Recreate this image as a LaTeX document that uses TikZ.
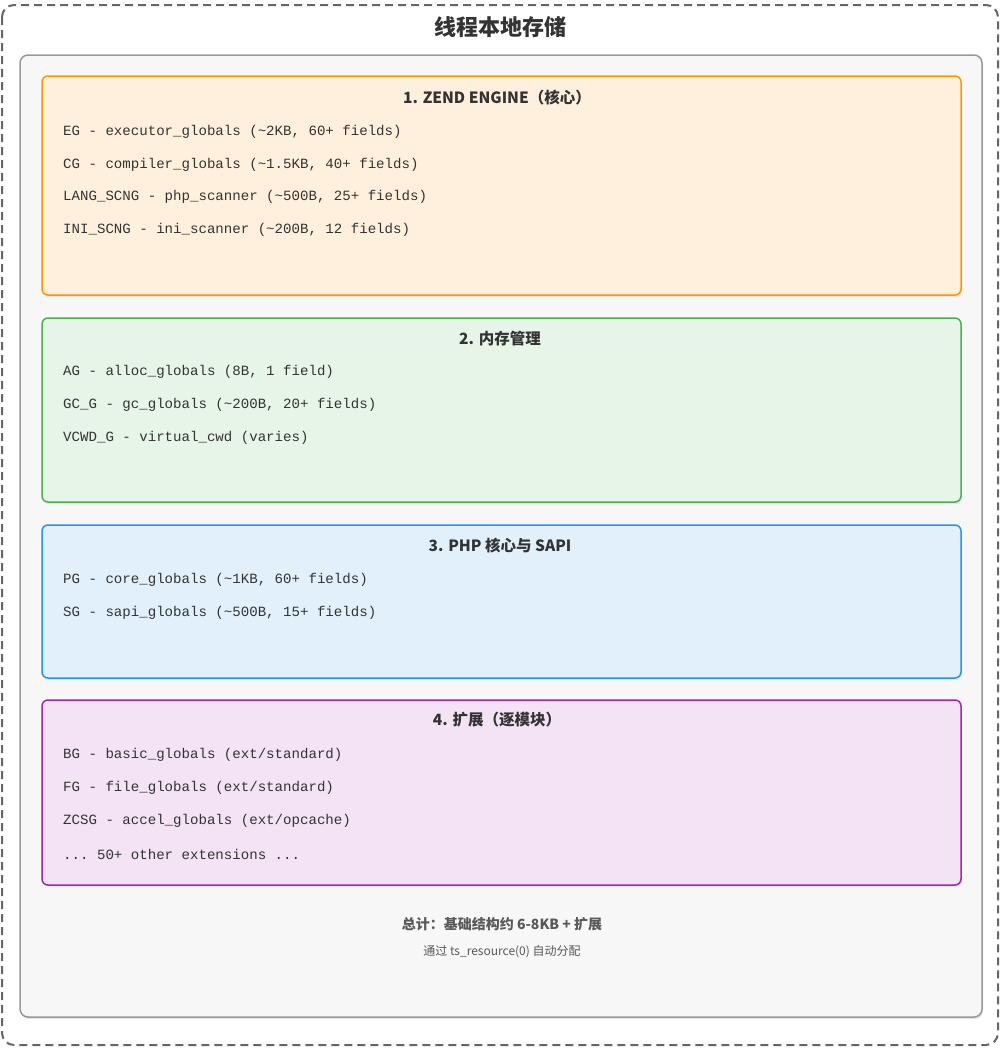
\documentclass[tikz,border=0pt]{standalone}
\usepackage{fontspec}
\setmainfont{Liberation Sans}
\newfontfamily\cjk{Noto Sans CJK SC}
\setmonofont{Liberation Mono}
\usetikzlibrary{shadows}
\definecolor{ofill}{HTML}{FFF0DE}\definecolor{oline}{HTML}{FF9800}
\definecolor{gfill}{HTML}{E7F4E8}\definecolor{gline}{HTML}{4CAF50}
\definecolor{bfill}{HTML}{E2F0FC}\definecolor{bline}{HTML}{2196F3}
\definecolor{pfill}{HTML}{F3E3F5}\definecolor{pline}{HTML}{9C27B0}
\definecolor{txt}{HTML}{333333}
\tikzset{
 x=1pt,y=-1pt,
 grp/.style={rounded corners=6pt,line width=1.5pt,drop shadow={shadow xshift=1pt,shadow yshift=-2pt,opacity=0.15}},
 ttl/.style={font=\cjk\bfseries\fontsize{15.5}{18}\selectfont,text=txt},
 ln/.style={anchor=west,font=\ttfamily\fontsize{14.1}{16}\selectfont,text=txt,inner sep=0},
}
\begin{document}
\begin{tikzpicture}
\useasboundingbox (0,0) rectangle (1008,1055);
\draw[rounded corners=12pt,line width=2pt,draw=black!60,dash pattern=on 8pt off 5pt] (2,5) rectangle (998,1045);
\node[font=\cjk\bfseries\fontsize{22}{26}\selectfont,text=txt] (title) at (500,27) {线程本地存储};
\draw[rounded corners=8pt,line width=1.5pt,draw=black!40,fill=black!3,drop shadow={shadow xshift=1pt,shadow yshift=-2pt,opacity=0.2}] (20,55) rectangle (982,1017);
% box 1
\draw[grp,fill=ofill,draw=oline] (42,76) rectangle (961,295);
\node[ttl] (t1) at (497,98) {1. ZEND ENGINE（核心）};
\node[ln] (a1) at (63,132) {EG - executor\_globals (\textasciitilde2KB, 60+ fields)};
\node[ln] (a2) at (63,165) {CG - compiler\_globals (\textasciitilde1.5KB, 40+ fields)};
\node[ln] (a3) at (63,197) {LANG\_SCNG - php\_scanner (\textasciitilde500B, 25+ fields)};
\node[ln] (a4) at (63,230) {INI\_SCNG - ini\_scanner (\textasciitilde200B, 12 fields)};
% box 2
\draw[grp,fill=gfill,draw=gline] (42,318) rectangle (961,502);
\node[ttl] (t2) at (500,339) {2. 内存管理};
\node[ln] (b1) at (63,372) {AG - alloc\_globals (8B, 1 field)};
\node[ln] (b2) at (63,405) {GC\_G - gc\_globals (\textasciitilde200B, 20+ fields)};
\node[ln] (b3) at (63,438) {VCWD\_G - virtual\_cwd (varies)};
% box 3
\draw[grp,fill=bfill,draw=bline] (42,525) rectangle (961,678);
\node[ttl] (t3) at (500,546) {3. PHP 核心与 SAPI};
\node[ln] (c1) at (63,580) {PG - core\_globals (\textasciitilde1KB, 60+ fields)};
\node[ln] (c2) at (63,613) {SG - sapi\_globals (\textasciitilde500B, 15+ fields)};
% box 4
\draw[grp,fill=pfill,draw=pline] (42,700) rectangle (961,885);
\node[ttl] (t4) at (497,720) {4. 扩展（逐模块）};
\node[ln] (d1) at (63,755) {BG - basic\_globals (ext/standard)};
\node[ln] (d2) at (63,788) {FG - file\_globals (ext/standard)};
\node[ln] (d3) at (63,821) {ZCSG - accel\_globals (ext/opcache)};
\node[ln] (d4) at (63,854) {... 50+ other extensions ...};
\node[font=\cjk\bfseries\fontsize{14}{16}\selectfont,text=black!65] (tot) at (502,924) {总计：基础结构约 6-8KB + 扩展};
\node[font=\cjk\fontsize{12}{14}\selectfont,text=black!65] (sub) at (502,952) {通过 ts\_resource(0) 自动分配};
\end{tikzpicture}
\end{document}
